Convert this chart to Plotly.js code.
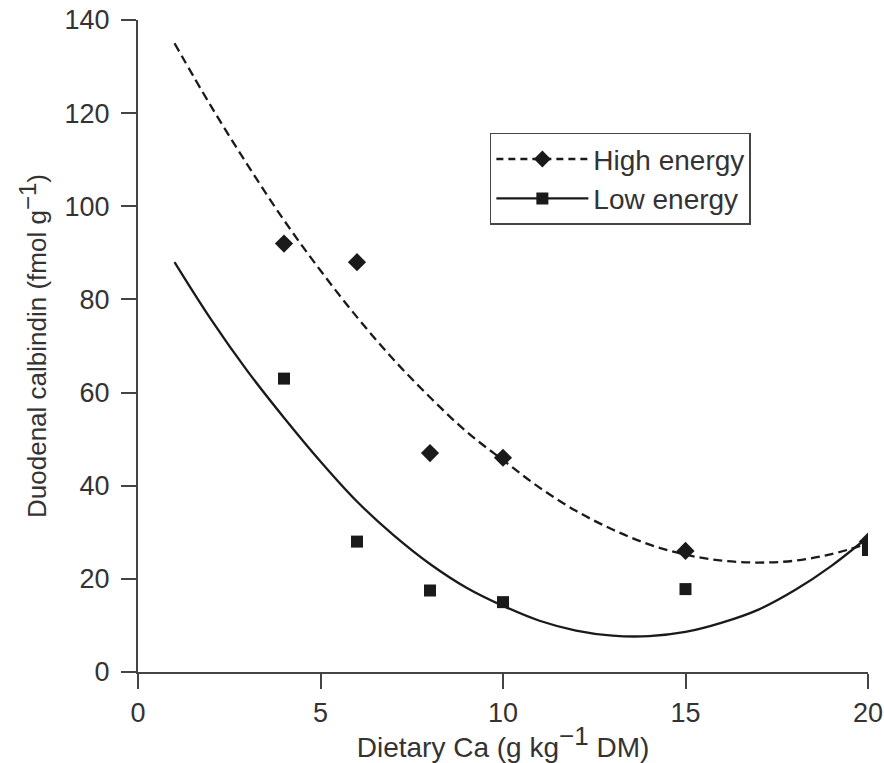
<!DOCTYPE html>
<html>
<head>
<meta charset="utf-8">
<script src="https://cdn.plot.ly/plotly-3.0.1.min.js"></script>
<style>html,body{margin:0;padding:0;background:#fff;}#chart{width:884px;height:763px;}</style>
</head>
<body>
<div id="chart"></div>
<script>
// Observed data points
const dietCa = [4, 6, 8, 10, 15, 20];
const highEnergy = [92, 88, 47, 46, 26, 28];
const lowEnergy = [63, 28, 17.5, 15, 17.8, 26.2];

// Fitted curves
const curveX = [1, 2, 3, 4, 5, 6, 7, 8, 9, 10, 11, 12, 13, 14, 15, 16, 17, 18, 19, 20];
const highCurve = [135, 121.5, 108.9, 97, 86.2, 76.2, 67.1, 59, 51.6, 45.5, 39.6, 34.6, 30.6, 27.4, 25.2, 23.9, 23.5, 23.9, 25.3, 27.6];
const lowCurve = [88, 75.7, 64.6, 54.6, 45.2, 36.6, 29.4, 23.2, 18.1, 14.2, 11.0, 8.9, 7.8, 7.7, 8.6, 10.6, 13.4, 17.6, 22.8, 29.0];

const xTicks = [0, 5, 10, 15, 20];
const yTicks = [0, 20, 40, 60, 80, 100, 120, 140];

const ink = '#1a1a1a';
const traces = [
  {x: curveX, y: highCurve, mode: 'lines', line: {color: ink, width: 2.3, dash: '9px,5px', shape: 'spline'}, showlegend: false, hoverinfo: 'skip'},
  {x: curveX, y: lowCurve, mode: 'lines', line: {color: ink, width: 2.3, shape: 'spline'}, showlegend: false, hoverinfo: 'skip'},
  {x: dietCa, y: highEnergy, mode: 'markers', marker: {symbol: 'diamond', size: 14, color: ink}, showlegend: false},
  {x: dietCa, y: lowEnergy, mode: 'markers', marker: {symbol: 'square', size: 12, color: ink}, showlegend: false},
  {x: [null], y: [null], name: 'High energy', mode: 'lines+markers', line: {color: ink, width: 2.3, dash: '7px,5px'}, marker: {symbol: 'diamond', size: 13, color: ink}},
  {x: [null], y: [null], name: 'Low energy', mode: 'lines+markers', line: {color: ink, width: 2.3}, marker: {symbol: 'square', size: 12, color: ink}}
];

const fontFam = 'Liberation Sans, Arial, sans-serif';
const txt = '#333';
const layout = {
  width: 884, height: 763,
  margin: {l: 138, r: 16, t: 20, b: 91},
  paper_bgcolor: '#fff', plot_bgcolor: '#fff',
  font: {family: fontFam, size: 27, color: txt},
  showlegend: true,
  legend: {
    x: 0.482, y: 0.827, xanchor: 'left', yanchor: 'top',
    bordercolor: '#444', borderwidth: 1.5, bgcolor: '#fff',
    font: {family: fontFam, size: 28, color: txt},
    itemwidth: 92,
    tracegroupgap: 0
  },
  xaxis: {
    range: [0, 20], tickvals: xTicks, ticktext: xTicks.map(String),
    showline: true, linecolor: '#444', linewidth: 2,
    ticks: 'outside', ticklen: 15, tickwidth: 2, tickcolor: '#444',
    showgrid: false, zeroline: false, ticklabelstandoff: 1,
    tickfont: {size: 27, color: txt},
    title: {text: 'Dietary Ca (g kg<sup><span style="font-size:26px">\u22121</span></sup> DM)', font: {size: 28, color: txt}, standoff: 2}
  },
  yaxis: {
    range: [0, 140], tickvals: yTicks, ticktext: yTicks.map(String),
    showline: true, linecolor: '#444', linewidth: 2,
    ticks: 'outside', ticklen: 15, tickwidth: 2, tickcolor: '#444',
    showgrid: false, zeroline: false, ticklabelstandoff: 6,
    tickfont: {size: 27, color: txt},
    title: {text: 'Duodenal calbindin (fmol g<sup><span style="font-size:24px">\u22121</span></sup>)', font: {size: 26, color: txt}, standoff: 10}
  }
};

Plotly.newPlot('chart', traces, layout, {displayModeBar: false, staticPlot: true});
</script>
</body>
</html>
